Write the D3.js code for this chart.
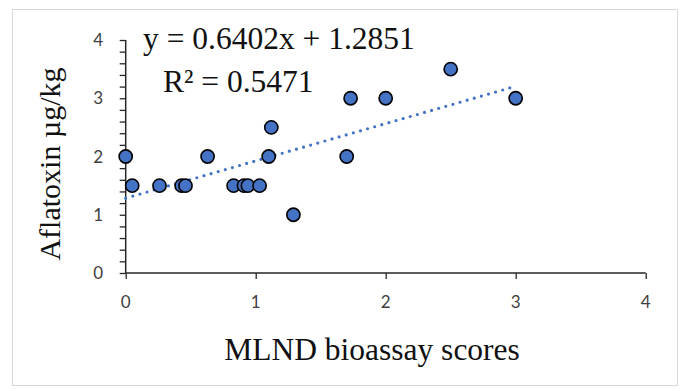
<!DOCTYPE html>
<html>
<head>
<meta charset="utf-8">
<script src="https://cdn.jsdelivr.net/npm/d3@7"></script>
<style>
  html, body { margin: 0; padding: 0; background: #fff; }
  svg { display: block; }
</style>
</head>
<body>
<script>
// MLND bioassay score vs aflatoxin level, one point per sample
const mlndScores = [0, 0.05, 0.26, 0.43, 0.46, 0.63, 0.83, 0.91, 0.94, 1.03, 1.1, 1.12, 1.29, 1.7, 1.73, 2.0, 2.5, 3.0];
const aflatoxin  = [2, 1.5, 1.5, 1.5, 1.5, 2, 1.5, 1.5, 1.5, 1.5, 2, 2.5, 1, 2, 3, 3, 3.5, 3];

// Linear trendline as printed on the chart
const trendSlope = 0.6402;
const trendIntercept = 1.2851;
const trendR2 = 0.5471;
const trendRange = [0, 3];

const xTicks = [0, 1, 2, 3, 4];
const yTicks = [0, 1, 2, 3, 4];
const yMinorTicks = d3.range(0, 4.0001, 0.2);

const W = 684, H = 390;
const svg = d3.select("body").append("svg").attr("width", W).attr("height", H);

// chart frame
svg.append("rect")
  .attr("x", 12.5).attr("y", 9.5).attr("width", 665).attr("height", 376)
  .attr("fill", "#fff").attr("stroke", "#d9d9d9").attr("stroke-width", 1);

const x = d3.scaleLinear().domain([0, 4]).range([125.7, 645.7]);
const y = d3.scaleLinear().domain([0, 4]).range([273, 40]);

const axisColor = "#262626";
const tickFont = "Lato, 'Open Sans', sans-serif";
const serif = "'Liberation Serif', 'Times New Roman', serif";

// y axis with minor ticks
const yAxisG = svg.append("g").attr("transform", `translate(${x(0)},0)`);
yAxisG.call(d3.axisLeft(y).tickValues(yMinorTicks).tickSize(6).tickFormat(""));
yAxisG.select(".domain").remove();
yAxisG.selectAll(".tick line").attr("stroke", axisColor).attr("stroke-width", 1.3);
yAxisG.append("line").attr("x1", 0).attr("x2", 0).attr("y1", y(0)).attr("y2", y(4))
  .attr("stroke", axisColor).attr("stroke-width", 1.5);

svg.append("g").selectAll("text").data(yTicks).join("text")
  .attr("x", 103).attr("y", d => y(d)).attr("dy", "0.36em")
  .attr("text-anchor", "end")
  .attr("font-family", tickFont).attr("font-size", 17).attr("fill", "#404040")
  .text(d => d);

// x axis
const xAxisG = svg.append("g").attr("transform", `translate(0,${y(0)})`);
xAxisG.call(d3.axisBottom(x).tickValues(xTicks).tickSize(6).tickFormat(""));
xAxisG.select(".domain").remove();
xAxisG.selectAll(".tick line").attr("stroke", axisColor).attr("stroke-width", 1.3);
xAxisG.append("line").attr("x1", x(0)).attr("x2", x(4)).attr("y1", 0).attr("y2", 0)
  .attr("stroke", axisColor).attr("stroke-width", 1.5);

svg.append("g").selectAll("text").data(xTicks).join("text")
  .attr("x", d => x(d)).attr("y", 308)
  .attr("text-anchor", "middle")
  .attr("font-family", tickFont).attr("font-size", 17).attr("fill", "#404040")
  .text(d => d);

// dotted linear trendline
const trendLine = d3.line().x(d => x(d)).y(d => y(trendSlope * d + trendIntercept));
svg.append("path")
  .attr("d", trendLine(trendRange))
  .attr("fill", "none").attr("stroke", "#4472c4")
  .attr("stroke-width", 3.2).attr("stroke-linecap", "round")
  .attr("stroke-dasharray", "0 7.4");

// data points
svg.append("g").selectAll("circle").data(mlndScores.map((v, i) => [v, aflatoxin[i]]))
  .join("circle")
  .attr("cx", d => x(d[0])).attr("cy", d => y(d[1])).attr("r", 6.6)
  .attr("fill", "#4472c4").attr("stroke", "#000").attr("stroke-width", 1.6);

// trendline equation and R²
svg.append("text").attr("x", 143).attr("y", 49)
  .attr("font-family", serif).attr("font-size", 31.5).attr("fill", "#111")
  .text(`y = ${trendSlope}x + ${trendIntercept}`);
svg.append("text").attr("x", 163).attr("y", 92)
  .attr("font-family", serif).attr("font-size", 31.5).attr("fill", "#111")
  .text(`R² = ${trendR2}`);

// axis titles
svg.append("text").attr("x", 372).attr("y", 360)
  .attr("text-anchor", "middle")
  .attr("font-family", serif).attr("font-size", 31.5).attr("fill", "#111")
  .text("MLND bioassay scores");
svg.append("text")
  .attr("transform", "translate(60,164) rotate(-90)")
  .attr("text-anchor", "middle")
  .attr("font-family", serif).attr("font-size", 30).attr("fill", "#111")
  .text("Aflatoxin µg/kg");
</script>
</body>
</html>
